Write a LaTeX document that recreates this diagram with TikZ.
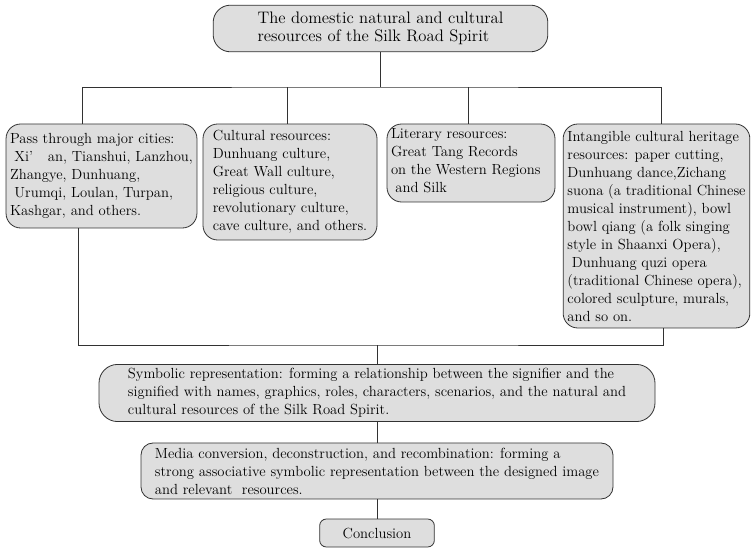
\documentclass[tikz,border=0pt]{standalone}
\usepackage{tikz}
\definecolor{boxgray}{RGB}{222,222,222}
\definecolor{edgegray}{RGB}{50,50,50}

\begin{document}
\begin{tikzpicture}[x=.75pt,y=-.75pt,every node/.style={font=\fontsize{11}{13.5}\selectfont}]
\tikzstyle{n}=[draw=edgegray,line width=.6pt,fill=boxgray,rounded corners=11pt,align=left,inner sep=3pt]
\tikzstyle{l}=[draw=edgegray,line width=.6pt]
\useasboundingbox (0,0) rectangle (753,548);
\node[n,minimum width=251pt,minimum height=35pt,rounded corners=13pt,font=\fontsize{12.5}{13.5}\selectfont] (top) at (380.5,28.5) {The domestic natural and cultural\\resources of the Silk Road Spirit};
\node[n,minimum width=143pt,minimum height=78pt] (cities) at (101.5,176) {Pass through major cities:\\\hspace*{.3em}Xi’\hspace*{1em}an, Tianshui, Lanzhou,\\Zhangye, Dunhuang,\\\hspace*{.3em}Urumqi, Loulan, Turpan,\\Kashgar, and others.};
\node[n,minimum width=130.5pt,minimum height=87pt] (culture) at (290,182) {Cultural resources:\\Dunhuang culture,\\Great Wall culture,\\religious culture,\\revolutionary culture,\\cave culture, and others.};
\node[n,minimum width=126pt] (literary) at (471,163) {\parbox[c][52.5pt][t]{120pt}{Literary resources:\\Great Tang Records\\on the Western Regions\\\hspace*{.3em}and Silk}};
\node[n,minimum width=140pt,minimum height=153pt] (heritage) at (656.5,226) {Intangible cultural heritage\\resources: paper cutting,\\Dunhuang dance,Zichang\\suona (a traditional Chinese\\musical instrument), bowl\\bowl qiang (a folk singing\\style in Shaanxi Opera),\\\hspace*{.3em}Dunhuang quzi opera\\(traditional Chinese opera),\\colored sculpture, murals,\\and so on.};
\node[n,minimum width=417pt,minimum height=42pt,rounded corners=14pt] (symbol) at (377,393) {Symbolic representation: forming a relationship between the signifier and the\\signified with names, graphics, roles, characters, scenarios, and the natural and\\cultural resources of the Silk Road Spirit.};
\node[n,minimum width=354pt,minimum height=42pt,rounded corners=9pt] (media) at (377,471) {Media conversion, deconstruction, and recombination: forming a\\strong associative symbolic representation between the designed image\\and relevant\ \ resources.};
\node[n,minimum width=86pt,minimum height=21pt,rounded corners=5pt] (concl) at (377,533) {Conclusion};
\coordinate (up) at (378,87);
\coordinate (dn) at (376,345);
\draw[l] (top.south) -- (top.south|-up);
\draw[l] ([xshift=-14pt]cities.north) |- (up) -| ([xshift=4pt]heritage.north);
\draw[l] ([xshift=-2pt]culture.north) -- ([xshift=-2pt]culture.north|-up);
\draw[l] ([xshift=-2pt]literary.north) -- ([xshift=-2pt]literary.north|-up);
\draw[l] ([xshift=-17pt]cities.south) |- (dn) -| ([xshift=5pt]heritage.south);
\draw[l] (symbol.north) -- (symbol.north|-dn);
\draw[l] (symbol) -- (media);
\draw[l] (media) -- (concl);
\end{tikzpicture}
\end{document}
